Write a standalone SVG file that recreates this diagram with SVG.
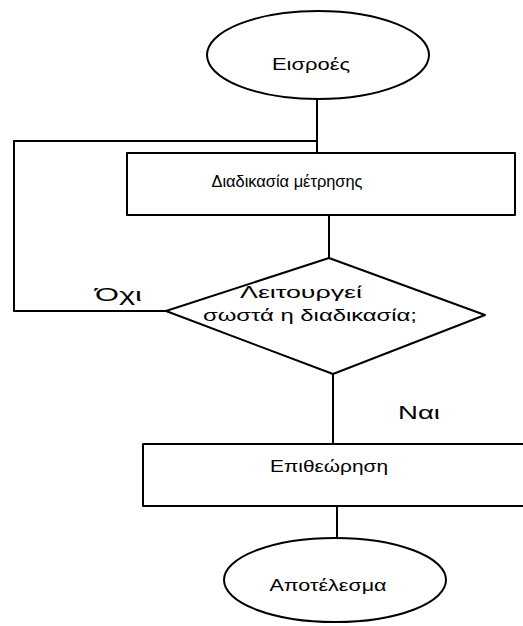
<svg xmlns="http://www.w3.org/2000/svg" width="523" height="626" viewBox="0 0 523 626">
<style>
.s{fill:#fff;stroke:#000;stroke-width:2;stroke-linejoin:round}
.c{fill:none;stroke:#000;stroke-width:2}
.t{font-family:"Liberation Sans","DejaVu Sans",sans-serif;font-size:16px;fill:#000;text-anchor:middle}
.l{font-family:"Liberation Sans","DejaVu Sans",sans-serif;font-size:19px;fill:#000}
</style>
<rect width="523" height="626" fill="#fff"/>
<g id="connectors">
<path class="c" d="M317 99V153"/>
<path class="c" d="M316 141H14V311H166"/>
<path class="c" d="M329 215V258"/>
<path class="c" d="M333 374V444"/>
<path class="c" d="M337 506V538"/>
<text class="l" x="95" y="301" textLength="47" lengthAdjust="spacingAndGlyphs">Όχι</text>
<text class="l" x="398" y="419" textLength="42" lengthAdjust="spacingAndGlyphs">Ναι</text>
</g>
<g id="inputs">
<ellipse class="s" cx="318" cy="55" rx="111" ry="44"/>
<text class="t" x="311" y="70" textLength="78" lengthAdjust="spacingAndGlyphs">Εισροές</text>
</g>
<g id="measure">
<rect class="s" x="127" y="153" width="388" height="62"/>
<text class="t" x="287" y="187" textLength="151" lengthAdjust="spacingAndGlyphs">Διαδικασία μέτρησης</text>
</g>
<g id="decision">
<polygon class="s" points="329,258 485,315 333,374 166,311"/>
<text class="t" x="301" y="298" textLength="122" lengthAdjust="spacingAndGlyphs">Λειτουργεί</text>
<text class="t" x="310" y="321" textLength="214" lengthAdjust="spacingAndGlyphs">σωστά η διαδικασία;</text>
</g>
<g id="inspection">
<rect class="s" x="143" y="444" width="392" height="62"/>
<text class="t" x="329" y="472" textLength="118" lengthAdjust="spacingAndGlyphs">Επιθεώρηση</text>
</g>
<g id="result">
<ellipse class="s" cx="335" cy="580" rx="111" ry="42"/>
<text class="t" x="328" y="591" textLength="117" lengthAdjust="spacingAndGlyphs">Αποτέλεσμα</text>
</g>
</svg>
